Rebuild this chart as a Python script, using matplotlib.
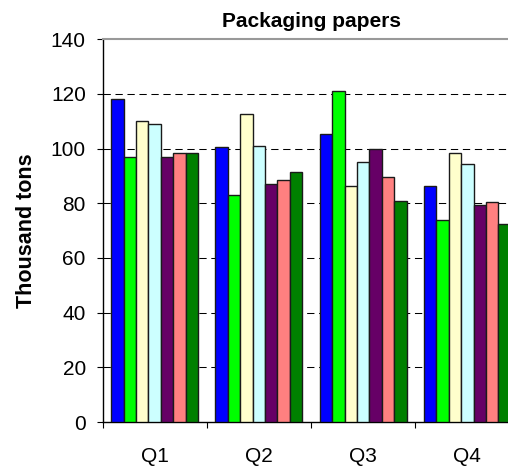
import matplotlib
matplotlib.use("Agg")
import matplotlib.pyplot as plt
import numpy as np

plt.rcParams['font.family'] = ['Liberation Sans', 'DejaVu Sans']

title = "Packaging papers"
ylabel = "Thousand tons"
categories = ["Q1", "Q2", "Q3", "Q4"]

s1 = [118, 100.5, 105.5, 86.5]
s2 = [97, 83, 121, 74]
s3 = [110, 112.5, 86.5, 98.5]
s4 = [109, 101, 95, 94.5]
s5 = [97, 87, 100, 79.5]
s6 = [98.5, 88.5, 89.5, 80.5]
s7 = [98.5, 91.5, 81, 72.5]
series = [s1, s2, s3, s4, s5, s6, s7]
colors = ["#0000FF", "#00FF00", "#FFFFCC", "#CCFFFF", "#660066", "#FF8080", "#008000"]

yticks = [0, 20, 40, 60, 80, 100, 120, 140]

W, H = 508, 468
fig = plt.figure(figsize=(W / 100, H / 100), dpi=100)
left, right = 102.5, 519.5
top, bottom = 39.3, 422
ax = fig.add_axes([left / W, (H - bottom) / H, (right - left) / W, (bottom - top) / H])

n = len(series)
bw = 0.119
x = np.arange(len(categories))
for i, (vals, c) in enumerate(zip(series, colors)):
    offs = (i - (n - 1) / 2) * bw
    ax.bar(x + offs, vals, width=bw, color=c, edgecolor="#1a1a1a", linewidth=1.0, zorder=3)

ax.set_xlim(-0.5, len(categories) - 0.5)
ax.set_ylim(0, 140)

for yv in yticks[1:-1]:
    ax.axhline(yv, color="black", linewidth=0.75, linestyle=(0, (7, 4.5)), zorder=1)

ax.set_yticks(yticks)
ax.set_yticklabels([str(v) for v in yticks], fontsize=15)
ax.tick_params(axis="y", direction="out", length=4, width=0.8, pad=8)

ax.set_xticks(np.arange(len(categories) + 1) - 0.5)
ax.set_xticklabels([])
ax.set_xticks(x, minor=True)
ax.set_xticklabels(categories, minor=True, fontsize=15)
ax.tick_params(axis="x", which="major", direction="out", length=4, width=0.8)
ax.tick_params(axis="x", which="minor", length=0, pad=18)

ax.spines["top"].set_color("#999999")
ax.spines["top"].set_linewidth(1.5)
ax.spines["right"].set_visible(False)
ax.spines["left"].set_linewidth(1.0)
ax.spines["bottom"].set_linewidth(1.0)

ax.set_title(title, fontsize=15, fontweight="bold", pad=9)
ax.set_ylabel(ylabel, fontsize=15.5, fontweight="bold", labelpad=10)

fig.savefig("out.png", dpi=100)
